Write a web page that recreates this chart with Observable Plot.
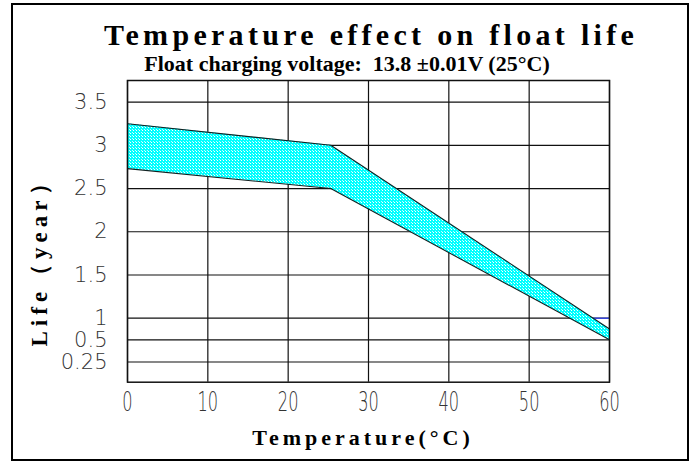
<!DOCTYPE html>
<html><head><meta charset="utf-8">
<script src="https://cdn.jsdelivr.net/npm/d3@7"></script>
<script src="https://cdn.jsdelivr.net/npm/@observablehq/plot@0.6"></script>
<style>
body{margin:0;background:#fff;}
#wrap{position:relative;width:699px;height:462px;overflow:hidden;background:#fff;}
#box{position:absolute;left:11px;top:3px;width:674px;height:454px;border:2px solid #000;pointer-events:none;}
.t{position:absolute;white-space:nowrap;font-family:"Liberation Serif",serif;font-weight:bold;color:#000;line-height:1;transform-origin:center center;}
#title{left:371px;top:20px;font-size:30px;letter-spacing:4.3px;transform:translateX(-50%);}
#sub{left:347px;top:53px;font-size:22px;transform:translateX(-50%);}
#ylab{left:39px;top:257px;font-size:23px;letter-spacing:5px;transform:translate(-50%,-50%) rotate(-90deg);}
#xlab{left:363px;top:427px;font-size:22px;letter-spacing:4px;transform:translateX(-50%);}
#chart{position:absolute;left:0;top:0;}
</style></head>
<body>
<div id="wrap">
  <div id="chart"></div>
  <div id="box"></div>
  <div class="t" id="title">Temperature effect on float life</div>
  <div class="t" id="sub">Float charging voltage:&nbsp;&nbsp;13.8 ±0.01V (25°C)</div>
  <div class="t" id="ylab">Life（year）</div>
  <div class="t" id="xlab">Temperature(°C)</div>
</div>
<script>
// Data
const temps = [0, 25.3, 60];
const lifeUpper = [3.25, 3.0, 0.75];
const lifeLower = [2.73, 2.5, 0.5];
const xTicks = [0, 10, 20, 30, 40, 50, 60];
const yTicks = [0.25, 0.5, 1, 1.5, 2, 2.5, 3, 3.5];
const yTickLabels = ["0.25", "0.5", "1", "1.5", "2", "2.5", "3", "3.5"];
const yBreaks = [0, 0.25, 0.5, 1, 3.75];      // piecewise axis breakpoints
const blueSeg = [{x1: 58, x2: 60, y: 1}];

const band = temps.map((t, i) => ({t, lo: lifeLower[i], hi: lifeUpper[i]}));
const labelOf = new Map(yTicks.map((v, i) => [v, yTickLabels[i]]));

const chart = Plot.plot({
  width: 699,
  height: 462,
  marginLeft: 127,
  marginRight: 90,
  marginTop: 80,
  marginBottom: 80.3,
  style: {background: "transparent"},
  x: {domain: [0, 60]},
  y: {type: "linear", domain: yBreaks, range: [381.7, 361.5, 339.3, 317.7, 80]},
  marks: [
    Plot.gridX(xTicks, {stroke: "#111", strokeOpacity: 1, strokeWidth: 1.2}),
    Plot.gridY(yTicks, {stroke: "#111", strokeOpacity: 1, strokeWidth: 1.2}),
    Plot.ruleY(blueSeg, {x1: "x1", x2: "x2", y: "y", stroke: "#3344ff", strokeWidth: 1.2}),
    Plot.areaY(band, {x: "t", y1: "lo", y2: "hi", fill: "url(#dots)", fillOpacity: 1, curve: "linear"}),
    Plot.lineY(band, {x: "t", y: "hi", stroke: "#112222", strokeWidth: 1.1}),
    Plot.lineY(band, {x: "t", y: "lo", stroke: "#112222", strokeWidth: 1.1}),
    Plot.frame({stroke: "#111", strokeWidth: 1.5}),
    Plot.axisX(xTicks, {tickSize: 0, tickPadding: 10, label: null, fontSize: 27,
      fontFamily: "DejaVu Sans", fontWeight: 200, fill: "#333"}),
    Plot.axisY(yTicks, {tickSize: 0, tickPadding: 20, label: null, fontSize: 21,
      fontFamily: "DejaVu Sans", fontWeight: 200, fill: "#333",
      tickFormat: d => labelOf.get(d)})
  ]
});
chart.insertAdjacentHTML("afterbegin",
  '<defs><pattern id="dots" width="3" height="3" patternUnits="userSpaceOnUse">' +
  '<rect width="3" height="3" fill="#00ffff"/><rect x="1" y="1" width="1" height="1" fill="#ffffff"/>' +
  '<rect x="0" y="0" width="1" height="1" fill="#bff"/></pattern></defs>');
document.getElementById("chart").appendChild(chart);

// condense the x tick glyphs horizontally to mimic the narrow CAD-style font
chart.querySelectorAll('g[aria-label="x-axis tick label"] text').forEach(t => {
  const w = t.getComputedTextLength();
  t.setAttribute("textLength", (w * 0.6).toFixed(1));
  t.setAttribute("lengthAdjust", "spacingAndGlyphs");
});
</script>
</body></html>
